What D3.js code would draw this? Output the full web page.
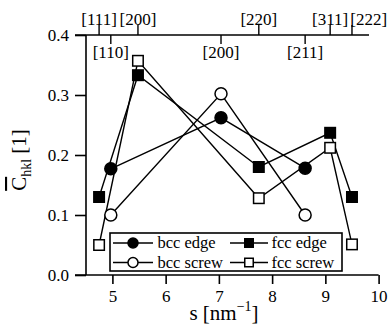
<!DOCTYPE html>
<html>
<head>
<meta charset="utf-8">
<script src="https://cdn.jsdelivr.net/npm/d3@7"></script>
<style>
  html, body { margin: 0; padding: 0; background: #fff; }
  svg { display: block; }
  text { font-family: 'Liberation Serif', 'Times New Roman', Times, serif; }
</style>
</head>
<body>
<svg id="chart" width="389" height="324"></svg>
<script>
// s positions of the reflections (nm^-1)
const bccS = [4.97, 7.04, 8.62];
const fccS = [4.75, 5.48, 7.75, 9.09, 9.50];
const bccLabels = ["[110]", "[200]", "[211]"];
const fccLabels = ["[111]", "[200]", "[220]", "[311]", "[222]"];

// contrast factors
const bccEdge  = [0.177, 0.262, 0.178];
const bccScrew = [0.100, 0.302, 0.100];
const fccEdge  = [0.130, 0.333, 0.180, 0.237, 0.130];
const fccScrew = [0.050, 0.357, 0.128, 0.212, 0.051];

const xTicks = [5, 6, 7, 8, 9, 10];
const yTicks = [0.0, 0.1, 0.2, 0.3, 0.4];

const series = [
  { name: "bcc edge",  s: bccS, v: bccEdge,  shape: "circle", filled: true },
  { name: "fcc edge",  s: fccS, v: fccEdge,  shape: "square", filled: true },
  { name: "bcc screw", s: bccS, v: bccScrew, shape: "circle", filled: false },
  { name: "fcc screw", s: fccS, v: fccScrew, shape: "square", filled: false }
];

const FONT = "'Liberation Serif', 'Times New Roman', serif";
const svg = d3.select("#chart").attr("font-family", FONT);
const W = 389;

const x = d3.scaleLinear().domain([5, 10]).range([112.4, 378.6]);
const y = d3.scaleLinear().domain([0, 0.4]).range([275, 35]);
const leftX = 86, axisStart = 75;

// axis lines
svg.append("line").attr("x1", axisStart).attr("x2", x(10)).attr("y1", y(0)).attr("y2", y(0))
  .attr("stroke", "#000").attr("stroke-width", 1.6);
svg.append("line").attr("x1", axisStart).attr("x2", x(9.82)).attr("y1", y(0.4)).attr("y2", y(0.4))
  .attr("stroke", "#000").attr("stroke-width", 1.6);
svg.append("line").attr("x1", leftX).attr("x2", leftX).attr("y1", y(0.4)).attr("y2", y(0))
  .attr("stroke", "#000").attr("stroke-width", 1.6);

// bottom axis
const gx = svg.append("g").attr("transform", `translate(0,${y(0)})`)
  .call(d3.axisBottom(x).tickValues(xTicks).tickFormat(d3.format("d")).tickSize(9).tickPadding(6));
gx.attr("font-family", FONT).attr("font-size", 17);
gx.select(".domain").remove();
gx.selectAll(".tick line").attr("stroke-width", 1.6);
gx.selectAll(".tick text").attr("fill", "#000").style("font-family", FONT);

// left axis
const gy = svg.append("g").attr("transform", `translate(${leftX},0)`)
  .call(d3.axisLeft(y).tickValues(yTicks).tickFormat(d3.format(".1f")).tickSize(11).tickPadding(6));
gy.attr("font-family", FONT).attr("font-size", 17);
gy.select(".domain").remove();
gy.selectAll(".tick line").attr("stroke-width", 1.6);
gy.selectAll(".tick text").attr("fill", "#000").style("font-family", FONT);

// top reflection ticks: fcc above, bcc below
const topAxis = svg.append("g").attr("font-size", 17);
let prevRight = -Infinity;
fccS.forEach((s, i) => {
  topAxis.append("line").attr("x1", x(s)).attr("x2", x(s)).attr("y1", y(0.4)).attr("y2", y(0.4) - 10)
    .attr("stroke", "#000").attr("stroke-width", 1.4);
  const t = topAxis.append("text").attr("y", y(0.4) - 10).text(fccLabels[i]);
  const w = t.node().getComputedTextLength();
  let left = Math.max(x(s) - w / 2, prevRight + 2);
  left = Math.min(left, W - w);
  t.attr("x", left);
  prevRight = left + w;
});
bccS.forEach((s, i) => {
  topAxis.append("line").attr("x1", x(s)).attr("x2", x(s)).attr("y1", y(0.4)).attr("y2", y(0.4) + 9)
    .attr("stroke", "#000").attr("stroke-width", 1.4);
  topAxis.append("text").attr("x", x(s)).attr("y", y(0.4) + 23)
    .attr("text-anchor", "middle").text(bccLabels[i]);
});

// axis titles
const xt = svg.append("text").attr("x", 224).attr("y", 320).attr("font-size", 21)
  .attr("text-anchor", "middle");
xt.append("tspan").text("s [nm");
xt.append("tspan").attr("dy", -9).attr("font-size", 14).text("\u22121");
xt.append("tspan").attr("dy", 9).text("]");

const yt = svg.append("text").attr("transform", "translate(26,160) rotate(-90)")
  .attr("font-size", 21).attr("text-anchor", "middle");
yt.append("tspan").attr("text-decoration", "overline").text("C");
yt.append("tspan").attr("dy", 5).attr("font-size", 14).text("hkl");
yt.append("tspan").attr("dy", -5).text(" [1]");

// markers
function marker(g, shape, filled, cx, cy, size) {
  if (shape === "circle") {
    g.append("circle").attr("cx", cx).attr("cy", cy).attr("r", size / 2)
      .attr("fill", filled ? "#000" : "#fff").attr("stroke", "#000").attr("stroke-width", 1.5);
  } else {
    g.append("rect").attr("x", cx - size / 2).attr("y", cy - size / 2)
      .attr("width", size).attr("height", size)
      .attr("fill", filled ? "#000" : "#fff").attr("stroke", "#000").attr("stroke-width", 1.5);
  }
}

const line = d3.line().x(d => x(d[0])).y(d => y(d[1]));
const plot = svg.append("g");
series.forEach(sr => {
  const pts = sr.s.map((s, i) => [s, sr.v[i]]);
  plot.append("path").attr("d", line(pts)).attr("fill", "none")
    .attr("stroke", "#000").attr("stroke-width", 1.4);
});
series.forEach(sr => {
  sr.s.forEach((s, i) => marker(plot, sr.shape, sr.filled, x(s), y(sr.v[i]),
    sr.shape === "circle" ? 12 : 10.5));
});

// legend
const lg = svg.append("g");
lg.append("rect").attr("x", 110).attr("y", 233).attr("width", 232).attr("height", 38)
  .attr("fill", "#fff").attr("stroke", "#000").attr("stroke-width", 1.6);
const legendPos = [
  { x0: 113, x1: 153, ty: 243, tx: 157.5 },
  { x0: 230, x1: 268, ty: 243, tx: 271.5 },
  { x0: 113, x1: 153, ty: 262.5, tx: 157.5 },
  { x0: 230, x1: 268, ty: 262.5, tx: 271.5 }
];
series.forEach((sr, i) => {
  const p = legendPos[i];
  lg.append("line").attr("x1", p.x0).attr("x2", p.x1).attr("y1", p.ty).attr("y2", p.ty)
    .attr("stroke", "#000").attr("stroke-width", 1.4);
  marker(lg, sr.shape, sr.filled, (p.x0 + p.x1) / 2, p.ty, sr.shape === "circle" ? 10 : 8.5);
  lg.append("text").attr("x", p.tx).attr("y", p.ty + 5).attr("font-size", 16.5).text(sr.name);
});
</script>
</body>
</html>
